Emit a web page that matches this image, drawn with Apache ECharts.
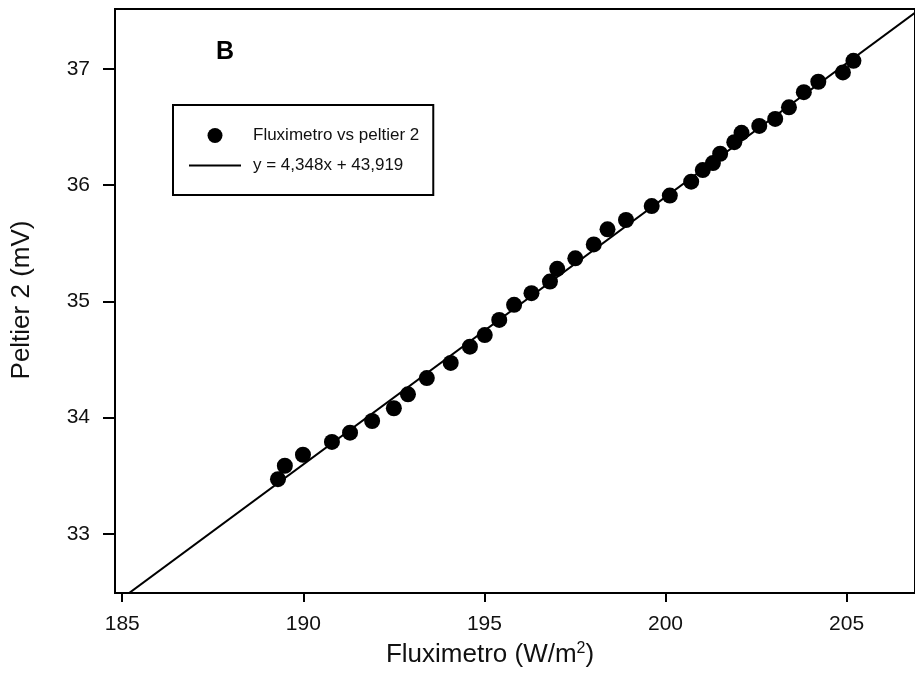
<!DOCTYPE html>
<html><head><meta charset="utf-8">
<script src="https://cdn.jsdelivr.net/npm/echarts@6/dist/echarts.min.js"></script>
<style>html,body{margin:0;padding:0;background:#fff}#c{width:915px;height:681px}</style>
</head><body><div id="c"></div>
<script>
const fluxX = [189.30, 189.49, 189.99, 190.79, 191.29, 191.90, 192.50, 192.89, 193.41, 194.07,
  194.60, 195.01, 195.41, 195.82, 196.30, 196.81, 197.01, 197.51, 198.02, 198.40,
  198.91, 199.62, 200.12, 200.71, 201.03, 201.31, 201.51, 201.90, 202.10, 202.59,
  203.03, 203.41, 203.82, 204.22, 204.90, 205.19];
const peltierY = [33.47, 33.585, 33.68, 33.79, 33.87, 33.97, 34.08, 34.20, 34.34, 34.47,
  34.61, 34.71, 34.84, 34.97, 35.07, 35.17, 35.28, 35.37, 35.49, 35.62,
  35.70, 35.82, 35.91, 36.03, 36.13, 36.19, 36.27, 36.37, 36.45, 36.51,
  36.57, 36.67, 36.80, 36.89, 36.97, 37.07];
const fitX = [184.8, 207.0];
const fitY = [32.40, 37.51];
const xTicks = [185, 190, 195, 200, 205];
const yTicks = [33, 34, 35, 36, 37];
const scatterName = 'Fluximetro vs peltier 2';
const fitName = 'y = 4,348x + 43,919';

const FONT = '"Liberation Sans", Arial, sans-serif';
const chart = echarts.init(document.getElementById('c'), null, {renderer: 'canvas'});
const axisCommon = {
  type: 'value',
  splitLine: {show: false},
  axisLine: {show: true, onZero: false, lineStyle: {color: '#000', width: 2}},
  axisTick: {show: true, lineStyle: {color: '#000', width: 2}},
  axisLabel: {color: '#111', fontSize: 21, fontFamily: FONT}
};
chart.setOption({
  animation: false,
  backgroundColor: '#fff',
  grid: {left: 115, top: 9, right: -5, bottom: 88, show: true, borderColor: '#000', borderWidth: 2, backgroundColor: 'transparent'},
  xAxis: Object.assign({}, axisCommon, {
    min: 184.8, max: 206.89,
    axisTick: Object.assign({}, axisCommon.axisTick, {length: 9, customValues: xTicks}),
    axisLabel: Object.assign({}, axisCommon.axisLabel, {margin: 21, customValues: xTicks})
  }),
  yAxis: Object.assign({}, axisCommon, {
    min: 32.49, max: 37.516,
    axisTick: Object.assign({}, axisCommon.axisTick, {length: 12, customValues: yTicks}),
    axisLabel: Object.assign({}, axisCommon.axisLabel, {margin: 25, customValues: yTicks})
  }),
  legend: {
    left: 173, top: 105, orient: 'vertical',
    padding: [22, 14, 21, 16],
    itemWidth: 52, itemHeight: 15, itemGap: 13,
    borderColor: '#000', borderWidth: 2,
    textStyle: {color: '#111', fontSize: 17, fontFamily: FONT, padding: [0, 0, 0, 7]},
    data: [
      {name: scatterName, icon: 'circle', itemStyle: {color: '#000', opacity: 1}},
      {name: fitName, icon: 'path://M0,0 H52 V2 H0 Z', itemStyle: {color: '#000', opacity: 1}}
    ]
  },
  graphic: [
    {type: 'text', left: 216, top: 40, style: {text: 'B', fontSize: 25, fontWeight: 'bold', fontFamily: FONT, fill: '#000'}},
    {type: 'text', x: 22, y: 300, rotation: Math.PI / 2,
      style: {text: 'Peltier 2 (mV)', fontSize: 26, fontFamily: FONT, fill: '#111', align: 'center', verticalAlign: 'middle'}},
    {type: 'text', x: 490, y: 655,
      style: {text: 'Fluximetro (W/m{sup|2})', fontSize: 26, fontFamily: FONT, fill: '#111', align: 'center', verticalAlign: 'middle',
        rich: {sup: {fontSize: 16, fontFamily: FONT, fill: '#111', verticalAlign: 'top', padding: [0, 0, 12, 0]}}}}
  ],
  series: [
    {name: scatterName, type: 'scatter', symbol: 'circle', symbolSize: 16,
      itemStyle: {color: '#000', opacity: 1}, data: fluxX.map((x, i) => [x, peltierY[i]]), z: 3},
    {name: fitName, type: 'line', symbol: 'none', clip: true,
      lineStyle: {color: '#000', width: 2}, itemStyle: {color: '#000'},
      data: fitX.map((x, i) => [x, fitY[i]]), z: 2}
  ]
});
</script></body></html>
